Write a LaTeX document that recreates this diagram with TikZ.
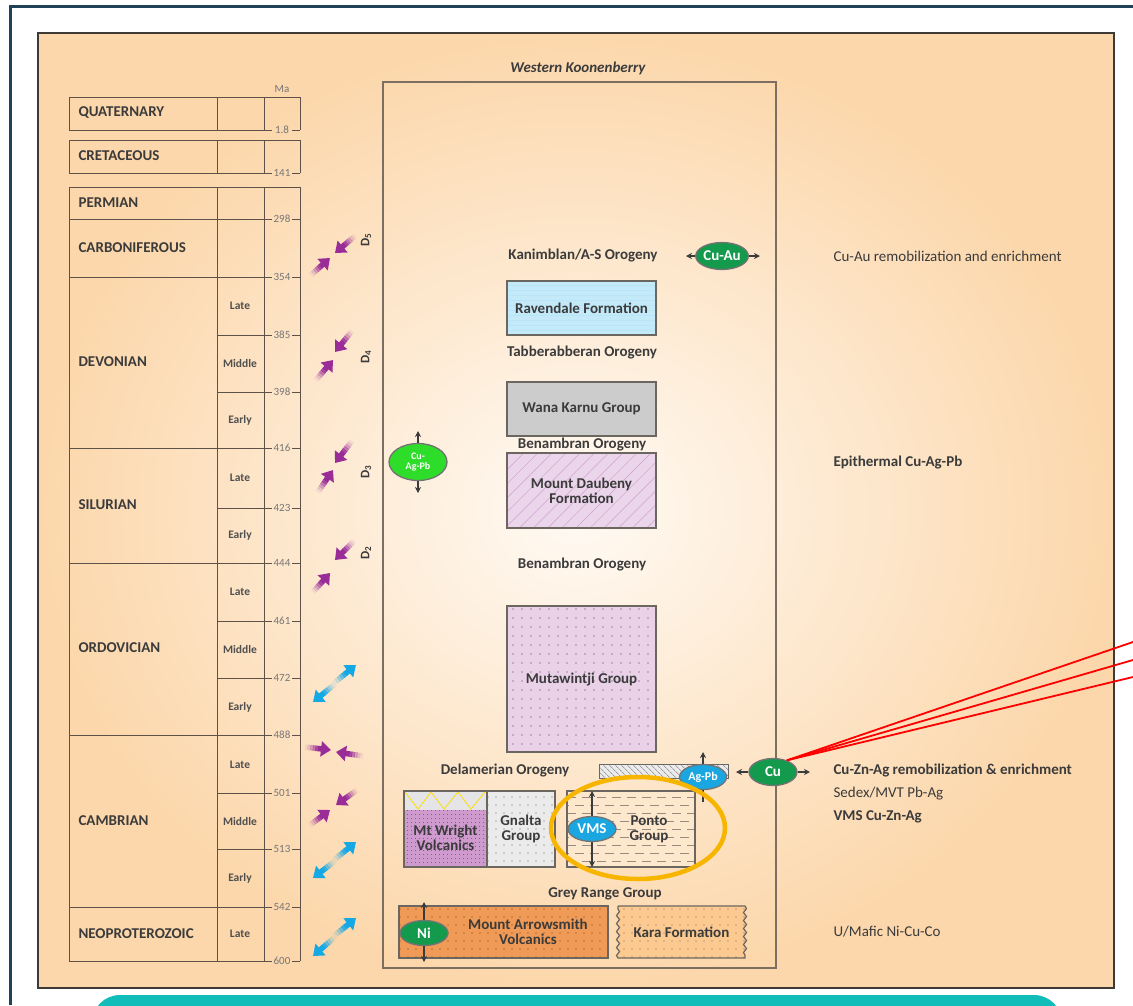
\documentclass[tikz,border=0pt]{standalone}
\usepackage{fontspec}
\setmainfont{Carlito}
\usetikzlibrary{shapes.geometric,arrows.meta,patterns.meta,decorations.pathmorphing,calc}
\definecolor{txt}{HTML}{3B3B3B}
\definecolor{framec}{HTML}{1F4257}
\definecolor{panelc}{HTML}{3E3A36}
\definecolor{peach}{HTML}{FCD7AB}
\definecolor{innerc}{HTML}{FFFAF4}
\definecolor{tealc}{HTML}{10BDB8}
\definecolor{tblc}{HTML}{5E5248}
\definecolor{wkc}{HTML}{7D6E62}
\definecolor{boxc}{HTML}{6B6660}
\definecolor{magc}{HTML}{9A2C98}
\definecolor{cyac}{HTML}{14A8E4}
\definecolor{darkg}{HTML}{149A4C}
\definecolor{brightg}{HTML}{2EDC2A}
\definecolor{orebl}{HTML}{1AA6E0}
\definecolor{ringc}{HTML}{F7B500}
\definecolor{arrowc}{HTML}{EF9A57}
\tikzset{
  tbl/.style={draw=tblc, line width=.9pt},
  period/.style={anchor=west, text=txt, font=\fontsize{15}{16}\selectfont\bfseries},
  epoch/.style={text=txt!90, font=\fontsize{11.5}{12}\selectfont\bfseries},
  manum/.style={text=txt!70, inner sep=0pt, font=\fontsize{11}{11}\selectfont},
  orog/.style={text=txt, font=\fontsize{15}{16}\selectfont\bfseries},
  unit/.style={draw=boxc, line width=1.2pt, align=center, text=txt, font=\fontsize{15}{15}\selectfont\bfseries},
  boxtxt/.style={align=center, text=txt, font=\fontsize{15}{15}\selectfont\bfseries},
  ore/.style={ellipse, draw=black!55, line width=1.3pt, inner sep=0pt, text=white, minimum width=48pt, minimum height=27pt, font=\fontsize{15}{15}\selectfont\bfseries},
  mob/.style={draw=txt, line width=1.1pt, -{Stealth[length=6pt,width=6pt]}},
  rtext/.style={anchor=west, text=txt, font=\fontsize{15}{16}\selectfont},
  dlabel/.style={rotate=90, text=txt, font=\fontsize{13}{13}\selectfont\bfseries},
}
% short fat arrow with a fading tail: colour, tail, head
\newcommand{\stressarrow}[3]{%
  \foreach \a/\b/\o in {0/.12/.08, .1/.22/.2, .2/.32/.38, .3/.42/.6, .4/.52/.85}
    \draw[#1, opacity=\o, line width=5.5pt] ($(#2)!\a!(#3)$) -- ($(#2)!\b!(#3)$);
  \draw[#1, line width=5.5pt, -{Triangle[length=10pt,width=15pt]}] ($(#2)!.5!(#3)$) -- (#3);}
\begin{document}
\begin{tikzpicture}[x=1pt,y=-1pt]
\useasboundingbox (0,0) rectangle (1133,1005);
\fill[white] (0,0) rectangle (1133,1005);
\draw[framec, line width=3pt] (10,1005) -- (10,6) -- (1133,6);
\fill[tealc, rounded corners=28pt] (92,995) rectangle (1062,1060);
\shade[inner color=innerc, outer color=peach] (38,33) rectangle (1114,988);
\draw[panelc, line width=2.5pt] (38,33) rectangle (1114,988);

% time scale
\foreach \top/\bot in {97/130, 140/173, 187/961}{
  \draw[tbl] (69,\bot) -- (69,\top) -- (300,\top) -- (300,\bot);
  \draw[tbl] (217,\top) -- (217,\bot) (264,\top) -- (264,\bot);
}
\foreach \ma/\y/\x [count=\i] in {1.8/130/69, 141/173/69, 298/219/69, 354/277/69, 385/335/217, 398/392/217, 416/448/69, 423/508/217, 444/563/69, 461/621/217, 472/678/217, 488/735/69, 501/793/217, 513/849/217, 542/907/69, 600/961/69}{
  \draw[tbl] (\x,\y) -- (272,\y) (292,\y) -- (300,\y);
  \node[manum] (ma\i) at (282,\y) {\ma};
}
\node[manum] (maunit) at (282,89) {Ma};
\foreach \name/\y [count=\i] in {QUATERNARY/113, CRETACEOUS/156, PERMIAN/203, CARBONIFEROUS/248, DEVONIAN/362, SILURIAN/505, ORDOVICIAN/648, CAMBRIAN/821, NEOPROTEROZOIC/934}
  \node[period] (per\i) at (75,\y) {\name};
\foreach \name/\y [count=\i] in {Late/306, Middle/363, Early/420, Late/478, Early/535, Late/592, Middle/649, Early/707, Late/765, Middle/821, Early/878, Late/934}
  \node[epoch] (ep\i) at (240,\y) {\name};

% deformation events
\stressarrow{magc}{355,236}{335,253}
\stressarrow{magc}{311,275}{330,258}
\stressarrow{magc}{352,331}{335,352}
\stressarrow{magc}{316,380}{333,360}
\stressarrow{magc}{352,441}{335,463}
\stressarrow{magc}{318,492}{333,470}
\stressarrow{magc}{354,541}{335,560}
\stressarrow{magc}{313,592}{330,573}
\stressarrow{cyac}{334,683}{356,665}
\stressarrow{cyac}{335,684}{313,702}
\stressarrow{magc}{305,747}{331,750}
\stressarrow{magc}{363,756}{336,752}
\stressarrow{magc}{357,790}{336,805}
\stressarrow{magc}{310,825}{330,810}
\stressarrow{cyac}{334,860}{356,842}
\stressarrow{cyac}{335,861}{313,878}
\stressarrow{cyac}{334,936}{356,918}
\stressarrow{cyac}{335,937}{313,956}
\node[dlabel] (d5) at (366,240) {D\textsubscript{5}};
\node[dlabel] (d4) at (366,357) {D\textsubscript{4}};
\node[dlabel] (d3) at (366,472) {D\textsubscript{3}};
\node[dlabel] (d2) at (366,553) {D\textsubscript{2}};

% Western Koonenberry column
\node[text=txt, font=\fontsize{15}{15}\selectfont\bfseries\itshape] (wk) at (578,68) {Western Koonenberry};
\draw[wkc, line width=1.2pt] (383,82) rectangle (776,968);
\node[orog] (kan) at (583,256) {Kanimblan/A-S Orogeny};
\node[orog] (tab) at (582,352) {Tabberabberan Orogeny};
\node[orog] (ben1) at (582,444) {Benambran Orogeny};
\node[orog] (ben2) at (582,564) {Benambran Orogeny};
\node[orog] (del) at (505,770) {Delamerian Orogeny};
\node[orog] (grey) at (605,894) {Grey Range Group};

\node[unit, minimum width=149pt, minimum height=54pt, preaction={fill=cyac!25}, pattern={Lines[angle=0,distance=5pt,line width=.4pt]}, pattern color=cyac!30] (rav) at (581.5,308) {Ravendale Formation};
\node[unit, minimum width=149pt, minimum height=54pt, fill=black!20] (wana) at (581.5,409) {Wana Karnu Group};
\node[unit, minimum width=149pt, minimum height=75pt, preaction={fill=magc!20}, pattern={Lines[angle=45,distance=10pt,line width=.5pt]}, pattern color=magc!45] (daub) at (581.5,490.5) {Mount Daubeny\\Formation};
\node[unit, minimum width=149pt, minimum height=146pt, preaction={fill=magc!22}, pattern={Dots[distance=9pt,radius=.7pt]}, pattern color=magc!70!black] (muta) at (581.5,679) {Mutawintji Group};

% hatched bar
\path[draw=boxc, line width=1pt, preaction={fill=black!8}, pattern={Lines[angle=-45,distance=4pt,line width=.5pt]}, pattern color=black!55] (599,764) rectangle (728,778);

% Mt Wright Volcanics
\node[unit, minimum width=83pt, minimum height=76pt, preaction={fill=magc!48}, pattern={Dots[distance=4pt,radius=.5pt]}, pattern color=magc!70!black] (mtw) at (445.5,829) {};
\fill[blue!10!black!10] (404,791) rectangle (487,810);
\draw[yellow!80!orange, line width=.8pt] (405,792) -- (418,809) -- (431,792) -- (444,809) -- (458,792) -- (471,809) -- (485,792);
\draw[boxc, line width=1.2pt] (404,791) rectangle (487,867);
\node[boxtxt] (mtwt) at (445.5,838) {Mt Wright\\Volcanics};
\node[unit, minimum width=68pt, minimum height=76pt, preaction={fill=blue!5!black!8}, pattern={Dots[distance=8pt,radius=.7pt]}, pattern color=black!60] (gna) at (521,829) {Gnalta\\Group};

% Ponto Group
\fill[peach!60!white] (567,791) rectangle (695,867);
\begin{scope}
\clip (567,791) rectangle (695,867);
\foreach \r in {797,813,...,865}
  \draw[wkc!80, line width=.6pt, dash pattern=on 9pt off 6pt] (567,\r) -- (695,\r);
\foreach \r in {805,821,...,865}
  \draw[wkc!80, line width=.6pt, dash pattern=on 9pt off 6pt, dash phase=7pt] (567,\r) -- (695,\r);
\end{scope}
\draw[boxc, line width=1.2pt] (567,791) rectangle (695,867);
\node[boxtxt] (ponto) at (649,829) {Ponto\\Group};

% Mount Arrowsmith Volcanics and Kara Formation
\node[unit, minimum width=209pt, minimum height=52pt, preaction={fill=arrowc}, pattern={Dots[distance=8pt,radius=.7pt]}, pattern color=orange!50!black] (arr) at (503.5,932) {};
\node[boxtxt] (arrt) at (528,932) {Mount Arrowsmith\\Volcanics};
\path[draw=boxc, line width=1.2pt, preaction={fill=peach!85!orange}, pattern={Dots[distance=8pt,radius=.7pt]}, pattern color=wkc]
  (618,906) -- (745,906) decorate[decoration={snake,amplitude=1.5pt,segment length=8pt}]{-- (745,958)}
  -- (618,958) decorate[decoration={snake,amplitude=1.5pt,segment length=8pt}]{-- (618,906)} -- cycle;
\node[boxtxt] (kara) at (681.5,932) {Kara Formation};

% ore systems
\node[ore, fill=darkg] (cuau) at (722,256) {Cu-Au};
\coordinate (cuauW) at (686,256);
\coordinate (cuauE) at (760,256);
\draw[mob] (cuau.west) -- (cuauW);
\draw[mob] (cuau.east) -- (cuauE);

\node[ore, fill=brightg, minimum width=58pt, minimum height=37pt, align=center, font=\fontsize{10}{10}\selectfont\bfseries] (cuag) at (418,462) {Cu-\\Ag-Pb};
\coordinate (cuagN) at (418,431);
\coordinate (cuagS) at (418,493);
\draw[mob] (cuag.north) -- (cuagN);
\draw[mob] (cuag.south) -- (cuagS);

\node[ore, fill=orebl, minimum width=47pt, minimum height=25pt, font=\fontsize{12}{12}\selectfont\bfseries] (agpb) at (703,777) {Ag-Pb};
\coordinate (agpbN) at (703,752);
\coordinate (agpbS) at (703,802);
\draw[mob] (agpb.north) -- (agpbN);
\draw[txt, line width=1.1pt] (agpb.south) -- (agpbS);

\node[ore, fill=darkg] (cu) at (773,772) {Cu};
\coordinate (cuW) at (736,772);
\coordinate (cuE) at (810,772);
\draw[mob] (cu.west) -- (cuW);
\draw[mob] (cu.east) -- (cuE);

\coordinate (vmsN) at (592,791);
\coordinate (vmsS) at (592,867);
\draw[mob] (592,829) -- (vmsN);
\draw[mob] (592,829) -- (vmsS);
\node[ore, fill=orebl, minimum height=25pt] (vms) at (592,829) {VMS};

\coordinate (niN) at (424,902);
\coordinate (niS) at (424,962);
\draw[mob] (424,933) -- (niN);
\draw[mob] (424,933) -- (niS);
\node[ore, fill=darkg, minimum height=25pt] (ni) at (424,933) {Ni};

\draw[ringc, line width=4.5pt] (638,828) ellipse (87pt and 51pt);

% links off the page
\coordinate (off1) at (1133,642);
\coordinate (off2) at (1133,660);
\coordinate (off3) at (1133,677);
\foreach \o in {off1,off2,off3}
  \draw[red, line width=1.8pt] (cu.40) -- (\o);

% deposit types
\node[rtext] (t1) at (830,256) {Cu-Au remobilization and enrichment};
\node[rtext, font=\fontsize{15}{16}\selectfont\bfseries] (t2) at (830,462) {Epithermal Cu-Ag-Pb};
\node[rtext, font=\fontsize{15}{16}\selectfont\bfseries] (t3) at (830,770) {Cu-Zn-Ag remobilization \& enrichment};
\node[rtext] (t4) at (830,794) {Sedex/MVT Pb-Ag};
\node[rtext, font=\fontsize{15}{16}\selectfont\bfseries] (t5) at (830,817) {VMS Cu-Zn-Ag};
\node[rtext] (t6) at (830,932) {U/Mafic Ni-Cu-Co};
\end{tikzpicture}
\end{document}
